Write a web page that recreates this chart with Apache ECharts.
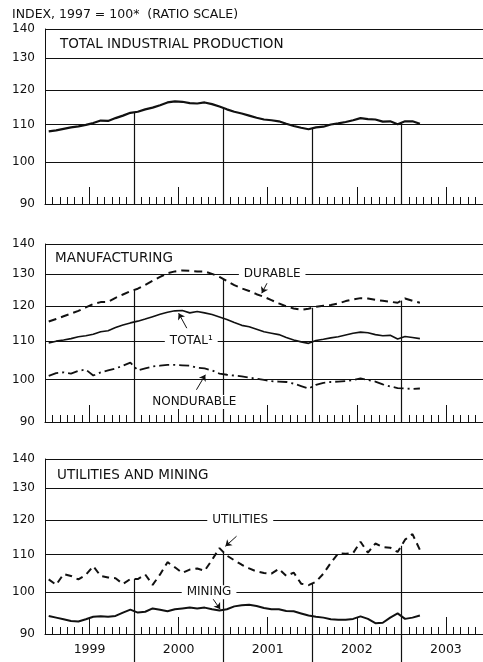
<!DOCTYPE html>
<html>
<head>
<meta charset="utf-8">
<script src="https://cdn.jsdelivr.net/npm/echarts@6/dist/echarts.min.js"></script>
<style>
  html, body { margin: 0; padding: 0; background: #fff; }
  #chart { width: 483px; height: 662px; }
</style>
</head>
<body>
<div id="chart"></div>
<script>
// monthly index values, Jan 1999 .. Mar 2003 (1997 = 100)
const years = ['1999', '2000', '2001', '2002', '2003'];
const yTicks = [90, 100, 110, 120, 130, 140];

const totalIP = [
  108.1, 108.4, 108.8, 109.2, 109.5, 109.9, 110.4, 111.1, 111.0, 111.8, 112.5, 113.3,
  113.6, 114.3, 114.8, 115.5, 116.3, 116.6, 116.5, 116.1, 116.0, 116.3, 115.8, 115.1,
  114.3, 113.6, 113.1, 112.5, 111.9, 111.4, 111.2, 110.9, 110.2, 109.6, 109.1, 108.7,
  109.2, 109.4, 110.0, 110.3, 110.7, 111.2, 111.8, 111.5, 111.4, 110.8, 110.9, 110.1,
  110.9, 110.9, 110.2
];
const durable = [
  115.5, 116.2, 117.0, 117.8, 118.6, 119.6, 120.6, 121.2, 121.3, 122.5, 123.5, 124.5,
  125.3, 126.5, 127.8, 129.0, 130.2, 130.8, 131.1, 131.0, 130.8, 130.8, 130.0, 129.0,
  127.7, 126.4, 125.4, 124.6, 123.6, 122.8, 121.8, 120.8, 119.9, 119.3, 118.9, 119.2,
  119.8, 120.1, 120.3, 120.8, 121.5, 122.0, 122.4, 122.3, 121.9, 121.6, 121.3, 121.0,
  122.3, 121.6, 121.0
];
const mfgTotal = [
  109.5, 110.0, 110.3, 110.7, 111.2, 111.5, 111.9, 112.6, 112.9, 113.8, 114.5, 115.1,
  115.6, 116.2, 116.9, 117.6, 118.2, 118.6, 118.7, 118.0, 118.4, 118.0, 117.5, 116.8,
  116.1, 115.2, 114.4, 114.0, 113.3, 112.6, 112.2, 111.8, 111.0, 110.3, 109.8, 109.4,
  110.2, 110.5, 110.9, 111.2, 111.7, 112.2, 112.5, 112.3, 111.8, 111.5, 111.6, 110.6,
  111.3, 111.0, 110.7
];
const nondurable = [
  100.9, 101.6, 101.8, 101.5, 102.2, 102.5, 101.0, 101.8, 102.3, 102.8, 103.5, 104.3,
  102.3, 102.8, 103.3, 103.5, 103.7, 103.7, 103.6, 103.5, 103.0, 102.8, 102.3, 101.5,
  101.2, 101.0, 100.8, 100.5, 100.2, 99.9, 99.6, 99.5, 99.4, 99.0, 98.4, 97.8,
  98.7, 99.2, 99.4, 99.5, 99.6, 99.9, 100.3, 99.9, 99.5, 98.8, 98.3, 97.9,
  97.8, 97.7, 97.8
];
const utilities = [
  103.3, 101.9, 104.7, 104.2, 103.3, 104.5, 106.8, 104.2, 103.8, 103.6, 102.1, 103.4,
  103.4, 104.6, 101.9, 104.6, 107.9, 106.5, 105.0, 105.9, 106.2, 105.6, 108.5, 111.8,
  109.7, 108.4, 107.2, 106.2, 105.4, 105.0, 104.8, 106.1, 104.2, 105.1, 102.2, 101.8,
  102.7, 104.8, 107.7, 110.3, 110.2, 110.4, 113.6, 110.5, 113.1, 112.1, 111.9, 110.7,
  114.2, 115.8, 111.3
];
const mining = [
  94.2, 93.8, 93.4, 93.0, 92.9, 93.4, 94.0, 94.1, 94.0, 94.2, 95.0, 95.7,
  95.0, 95.2, 96.0, 95.7, 95.3, 95.8, 96.0, 96.2, 96.0, 96.2, 95.8, 95.5,
  95.8, 96.5, 96.8, 96.9, 96.6, 96.1, 95.8, 95.8, 95.4, 95.3, 94.8, 94.3,
  94.0, 93.8, 93.4, 93.3, 93.3, 93.5, 94.1, 93.5, 92.5, 92.6, 93.8, 94.8,
  93.5, 93.8, 94.3
];

const monthsShown = 59;          // axis runs Jan 1999 .. Nov 2003
const yearStarts = [12, 24, 36, 48];
const midYears = [6, 18, 30, 42, 54];

const font = 'DejaVu Sans';
const ink = '#111';

const panels = [
  { top: 29, height: 175 },
  { top: 244, height: 178 },
  { top: 459, height: 175 }
];

const toPoints = (vals) => vals.map((v, i) => [i + 0.5, v]);

// vertical rules at each new year, from the top series down to the axis
function droplines(vals) {
  return yearStarts.map((m) => [
    { coord: [m, (vals[m - 1] + vals[m]) / 2] },
    { coord: [m, 90] }
  ]);
}

function tag(text, x, y) {
  return {
    coord: [x, y],
    label: {
      show: true, position: 'inside', formatter: text,
      color: ink, fontFamily: font, fontSize: 12,
      backgroundColor: '#fff', padding: [1, 5]
    }
  };
}
function arrow(x1, y1, x2, y2) {
  return [{ coord: [x1, y1], symbol: 'none' }, { coord: [x2, y2], symbol: 'arrow', symbolSize: 6 }];
}

function line(name, vals, p, type, width, extra) {
  return Object.assign({
    name, type: 'line', data: toPoints(vals),
    xAxisIndex: p * 2, yAxisIndex: p,
    symbol: 'none', silent: true, animation: false,
    lineStyle: { color: ink, width, type }
  }, extra || {});
}

const ruleStyle = { color: ink, width: 1.2, type: 'solid' };

const grid = panels.map((p) => ({ left: 45, right: 0, top: p.top, height: p.height }));
grid.push({ left: 45, right: 0, top: 634, bottom: 0 });

const xAxis = [];
const yAxis = [];
panels.forEach((p, i) => {
  xAxis.push({
    gridIndex: i, type: 'value', min: 0, max: monthsShown, interval: 1,
    axisLine: { show: true, onZero: false, lineStyle: { color: ink, width: 1 } },
    axisTick: { show: true, inside: true, length: 7, lineStyle: { color: ink } },
    axisLabel: { show: false }, splitLine: { show: false }
  });
  xAxis.push({
    gridIndex: i, type: 'value', min: 0, max: monthsShown, position: 'bottom',
    axisLine: { show: false },
    axisTick: { show: true, inside: true, length: 17, customValues: midYears, lineStyle: { color: ink } },
    axisLabel: {
      show: i === 2, customValues: midYears,
      formatter: (v) => years[(v - 6) / 12],
      color: ink, fontFamily: font, fontSize: 12.5, margin: 9
    },
    splitLine: { show: false }
  });
  yAxis.push({
    gridIndex: i, type: 'log', logBase: 10, min: 90, max: 140,
    axisLine: { show: true, lineStyle: { color: ink, width: 1 } },
    axisTick: { show: false, customValues: yTicks },
    axisLabel: { customValues: yTicks, color: ink, fontFamily: font, fontSize: 12, margin: 10 },
    splitLine: { show: true, lineStyle: { color: ink, width: 1 } }
  });
});
xAxis.push({ gridIndex: 3, type: 'value', min: 0, max: monthsShown, show: false });
yAxis.push({ gridIndex: 3, type: 'value', min: 0, max: 1, show: false });

const series = [
  line('Total industrial production', totalIP, 0, 'solid', 2.2, {
    markLine: { silent: true, symbol: 'none', label: { show: false }, lineStyle: ruleStyle, data: droplines(totalIP), animation: false }
  }),
  line('Durable', durable, 1, [8, 5], 2, {
    markLine: { silent: true, symbol: 'none', label: { show: false }, lineStyle: ruleStyle, data: droplines(durable), animation: false }
  }),
  line('Total', mfgTotal, 1, 'solid', 1.6, {
    markPoint: {
      symbolSize: 0, silent: true, animation: false,
      data: [tag('DURABLE', 30.6, 130), tag('TOTAL\u00b9', 19.7, 110), tag('NONDURABLE', 20.1, 94.6)]
    },
    markLine: {
      silent: true, label: { show: false }, animation: false,
      lineStyle: { color: ink, width: 1, type: 'solid' },
      data: [arrow(19.1, 113.6, 18.0, 117.9), arrow(20.4, 97.5, 21.6, 101.2), arrow(29.9, 127.0, 29.2, 123.9)]
    }
  }),
  line('Nondurable', nondurable, 1, [10, 4, 2, 4], 1.8),
  line('Utilities', utilities, 2, [7, 5], 2, {
    markLine: { silent: true, symbol: 'none', label: { show: false }, lineStyle: ruleStyle, data: droplines(utilities), animation: false }
  }),
  line('Mining', mining, 2, 'solid', 2, {
    markPoint: {
      symbolSize: 0, silent: true, animation: false,
      data: [tag('UTILITIES', 26.3, 120), tag('MINING', 22.1, 100)]
    },
    markLine: {
      silent: true, label: { show: false }, animation: false,
      lineStyle: { color: ink, width: 1, type: 'solid' },
      data: [arrow(25.8, 115.2, 24.3, 112.3), arrow(22.2, 99.5, 23.6, 95.8)]
    }
  }),
  {
    type: 'line', data: [], xAxisIndex: 6, yAxisIndex: 3, silent: true, animation: false,
    markLine: {
      silent: true, symbol: 'none', label: { show: false }, lineStyle: ruleStyle, animation: false,
      data: yearStarts.map((m) => ({ xAxis: m }))
    }
  }
];

const titleStyle = { color: ink, fontFamily: font, fontSize: 13.5, fontWeight: 'normal' };
const title = [
  { text: 'INDEX, 1997 = 100*  (RATIO SCALE)', left: 7, top: 3, textStyle: { color: ink, fontFamily: font, fontSize: 12.5, fontWeight: 'normal' } },
  { text: 'TOTAL INDUSTRIAL PRODUCTION', left: 55, top: 32, textStyle: titleStyle },
  { text: 'MANUFACTURING', left: 50, top: 246, textStyle: titleStyle },
  { text: 'UTILITIES AND MINING', left: 52, top: 463, textStyle: titleStyle }
];

const chart = echarts.init(document.getElementById('chart'));
chart.setOption({ animation: false, backgroundColor: '#fff', title, grid, xAxis, yAxis, series });
</script>
</body>
</html>
